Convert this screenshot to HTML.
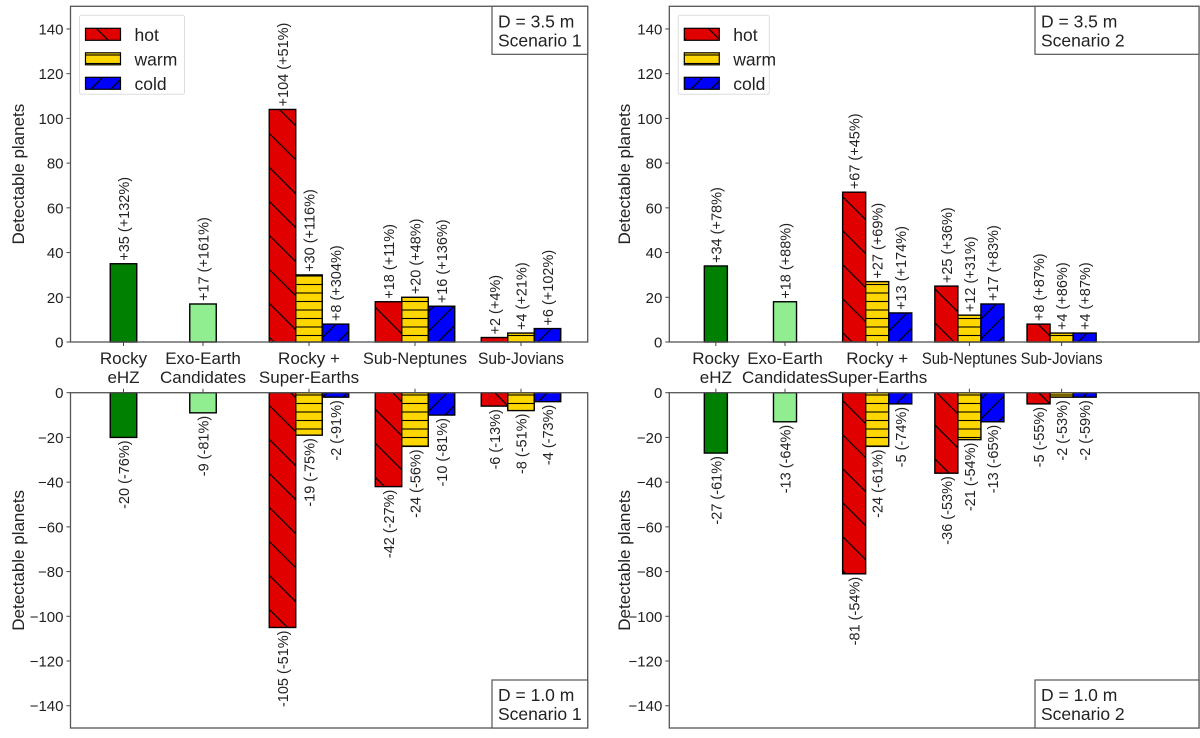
<!DOCTYPE html>
<html><head><meta charset="utf-8"><style>
body{margin:0;background:#fff;}
svg text{font-family:"Liberation Sans",Arial,sans-serif;fill:#222;}
</style></head><body>
<svg id="chart" width="1200" height="733" viewBox="0 0 1200 733" xmlns="http://www.w3.org/2000/svg">
<defs>
<pattern id="hatchHot" patternUnits="userSpaceOnUse" width="34" height="34">
<rect width="34" height="34" fill="#e00000"/>
<path d="M0,0 L34,34 M-34,0 L0,34 M34,0 L68,34" stroke="#000" stroke-width="1.2"/>
</pattern>
<pattern id="hatchWarm" patternUnits="userSpaceOnUse" width="10" height="8.5">
<rect width="10" height="8.5" fill="#ffd700"/>
<path d="M0,4 L10,4" stroke="#000" stroke-width="1.1"/>
</pattern>
<pattern id="hatchCold" patternUnits="userSpaceOnUse" width="20" height="20">
<rect width="20" height="20" fill="#0000ff"/>
<path d="M0,20 L20,0 M-20,20 L0,0 M20,20 L40,0" stroke="#000" stroke-width="1.2"/>
</pattern>
</defs>
</svg>
<script>
const categories = [["Rocky","eHZ"],["Exo-Earth","Candidates"],["Rocky +","Super-Earths"],["Sub-Neptunes"],["Sub-Jovians"]];
const catPos = [0.75,1.5,2.5,3.5,4.5];
const yTicksTop = [0,20,40,60,80,100,120,140];
const yTicksBottom = [0,-20,-40,-60,-80,-100,-120,-140];

// Scenario 1, D=3.5 m
const s1TopSingle = [35,17];
const s1TopSingleLbl = ["+35 (+132%)","+17 (+161%)"];
const s1TopHot = [104,18,2];
const s1TopWarm = [30,20,4];
const s1TopCold = [8,16,6];
const s1TopHotLbl = ["+104 (+51%)","+18 (+11%)","+2 (+4%)"];
const s1TopWarmLbl = ["+30 (+116%)","+20 (+48%)","+4 (+21%)"];
const s1TopColdLbl = ["+8 (+304%)","+16 (+136%)","+6 (+102%)"];
// Scenario 1, D=1.0 m
const s1BotSingle = [-20,-9];
const s1BotSingleLbl = ["-20 (-76%)","-9 (-81%)"];
const s1BotHot = [-105,-42,-6];
const s1BotWarm = [-19,-24,-8];
const s1BotCold = [-2,-10,-4];
const s1BotHotLbl = ["-105 (-51%)","-42 (-27%)","-6 (-13%)"];
const s1BotWarmLbl = ["-19 (-75%)","-24 (-56%)","-8 (-51%)"];
const s1BotColdLbl = ["-2 (-91%)","-10 (-81%)","-4 (-73%)"];
// Scenario 2, D=3.5 m
const s2TopSingle = [34,18];
const s2TopSingleLbl = ["+34 (+78%)","+18 (+88%)"];
const s2TopHot = [67,25,8];
const s2TopWarm = [27,12,4];
const s2TopCold = [13,17,4];
const s2TopHotLbl = ["+67 (+45%)","+25 (+36%)","+8 (+87%)"];
const s2TopWarmLbl = ["+27 (+69%)","+12 (+31%)","+4 (+86%)"];
const s2TopColdLbl = ["+13 (+174%)","+17 (+83%)","+4 (+87%)"];
// Scenario 2, D=1.0 m
const s2BotSingle = [-27,-13];
const s2BotSingleLbl = ["-27 (-61%)","-13 (-64%)"];
const s2BotHot = [-81,-36,-5];
const s2BotWarm = [-24,-21,-2];
const s2BotCold = [-5,-13,-2];
const s2BotHotLbl = ["-81 (-54%)","-36 (-53%)","-5 (-55%)"];
const s2BotWarmLbl = ["-24 (-61%)","-21 (-54%)","-2 (-53%)"];
const s2BotColdLbl = ["-5 (-74%)","-13 (-65%)","-2 (-59%)"];

const NS="http://www.w3.org/2000/svg";
const svg=document.getElementById('chart');
function mk(tag,attrs,parent,text){const e=document.createElementNS(NS,tag);for(const k in attrs)e.setAttribute(k,attrs[k]);if(text!==undefined)e.textContent=text;(parent||svg).appendChild(e);return e;}

function panel(cfg){
  const g=mk('g',{});
  
  
  const xS=v=>cfg.x0+(v-1.5)*cfg.unit;
  const yS=v=>cfg.zeroY-v*2.236;
  const left=cfg.left,right=cfg.right,top=cfg.top,bot=cfg.bottom;
  const bw=0.25*cfg.unit;
  const ticks=cfg.isTop?yTicksTop:yTicksBottom;
  ticks.forEach(t=>{
    const y=yS(t);
    const tk=mk('line',{x1:left-4,x2:left,y1:y,y2:y,stroke:'#444','stroke-width':1},g);
    
    
    const tl=mk('text',{x:left-7,y:y+5.5,'text-anchor':'end','font-size':15},g,t<0?'\u2212'+(-t):String(t));
    
    
  });
  catPos.forEach((c,i)=>{
    const x=xS(c);
    const tk=cfg.isTop?mk('line',{x1:x,x2:x,y1:bot,y2:bot+4,stroke:'#444'},g):mk('line',{x1:x,x2:x,y1:top,y2:top-4,stroke:'#444'},g);
    
    
    if(cfg.isTop){
      const lines=categories[i];
      const tx=mk('text',{x:x,y:bot+22,'text-anchor':'middle','font-size':17,'textLength':null},g);
      tx.removeAttribute('textLength');
      
      
      lines.forEach((l,j)=>{
        const sp=mk('tspan',{x:x,dy:j?19:0},tx,l);
        if(l==='Sub-Neptunes'||l==='Sub-Jovians'){sp.setAttribute('textLength',l==='Sub-Neptunes'?(cfg.unit<100?95:104):(cfg.unit<100?82:86));sp.setAttribute('lengthAdjust','spacingAndGlyphs');}
      });
    }
  });
  const yl=mk('text',{x:0,y:0,transform:`translate(${cfg.ylx},${(top+bot)/2}) rotate(-90)`,'text-anchor':'middle','font-size':17},g,'Detectable planets');
  
  

  function bar(x,v,fill,lbl,name){
    const y0=yS(0),y1=yS(v);
    const r=mk('rect',{x:x-bw/2,y:Math.min(y0,y1),width:bw,height:Math.abs(y1-y0),fill:fill,stroke:'#000','stroke-width':1.4},g);
    
    
    let t;
    if(v>=0){t=mk('text',{x:0,y:0,transform:`translate(${x+5.5},${y1-3}) rotate(-90)`,'text-anchor':'start','font-size':14.5},g,lbl);}
    else{t=mk('text',{x:0,y:0,transform:`translate(${x+5.5},${y1+3}) rotate(-90)`,'text-anchor':'end','font-size':14.5},g,lbl);}
    
    
  }
  cfg.single.forEach((v,i)=>bar(xS(catPos[i]),v,i===0?'#008000':'#90ee90',cfg.singleLbl[i],i===0?'bar-rocky-ehz':'bar-exo-earth'));
  for(let i=0;i<3;i++){
    const c=xS(catPos[i+2]);
    bar(c-bw,cfg.hot[i],'url(#hatchHot)',cfg.hotLbl[i],'bar-hot');
    bar(c,cfg.warm[i],'url(#hatchWarm)',cfg.warmLbl[i],'bar-warm');
    bar(c+bw,cfg.cold[i],'url(#hatchCold)',cfg.coldLbl[i],'bar-cold');
  }
  const fr=mk('rect',{x:left,y:top,width:right-left,height:bot-top,fill:'none',stroke:'#555','stroke-width':1.3},g);
  
  
  const bx=cfg.boxX, by=cfg.isTop?top:bot-48;
  const ab=mk('rect',{x:bx,y:by,width:right-bx,height:48,fill:'#fff',stroke:'#555','stroke-width':1.2},g);
  
  
  const at=mk('text',{x:bx+6,y:by+21,'font-size':17.5},g);
  
  
  mk('tspan',{x:bx+6},at,cfg.isTop?'D = 3.5 m':'D = 1.0 m');
  mk('tspan',{x:bx+6,dy:19},at,cfg.scen);
  if(cfg.isTop){
    const lx=left+9,ly=top+9;
    const lg=mk('g',{},g);
    
    
    mk('rect',{x:lx,y:ly,width:cfg.legW,height:79,fill:'#fff',stroke:'#ddd','stroke-width':1,rx:2},lg);
    [['url(#hatchHot)','hot'],['url(#hatchWarm)','warm'],['url(#hatchCold)','cold']].forEach((e,j)=>{
      const en=mk('g',{},lg);
      
      
      mk('rect',{x:lx+6,y:ly+13+j*24.5,width:35,height:12,fill:e[0],stroke:'#000','stroke-width':1.2},en);
      mk('text',{x:lx+55,y:ly+25.5+j*24.5,'font-size':17.5},en,e[1]);
    });
  }
}
const base1={left:70.5,right:587.7,x0:203,unit:106,ylx:24,boxX:492,legW:105};
const base2={left:669.3,right:1199,x0:785,unit:92.2,ylx:630,boxX:1035,legW:91};
const topGeom={isTop:true,top:6.3,bottom:342,zeroY:342};
const botGeom={isTop:false,top:392.7,bottom:728,zeroY:392.7};
panel(Object.assign({},base1,topGeom,{name:'s1-top',scen:'Scenario 1',single:s1TopSingle,singleLbl:s1TopSingleLbl,hot:s1TopHot,warm:s1TopWarm,cold:s1TopCold,hotLbl:s1TopHotLbl,warmLbl:s1TopWarmLbl,coldLbl:s1TopColdLbl}));
panel(Object.assign({},base1,botGeom,{name:'s1-bottom',scen:'Scenario 1',single:s1BotSingle,singleLbl:s1BotSingleLbl,hot:s1BotHot,warm:s1BotWarm,cold:s1BotCold,hotLbl:s1BotHotLbl,warmLbl:s1BotWarmLbl,coldLbl:s1BotColdLbl}));
panel(Object.assign({},base2,topGeom,{name:'s2-top',scen:'Scenario 2',single:s2TopSingle,singleLbl:s2TopSingleLbl,hot:s2TopHot,warm:s2TopWarm,cold:s2TopCold,hotLbl:s2TopHotLbl,warmLbl:s2TopWarmLbl,coldLbl:s2TopColdLbl}));
panel(Object.assign({},base2,botGeom,{name:'s2-bottom',scen:'Scenario 2',single:s2BotSingle,singleLbl:s2BotSingleLbl,hot:s2BotHot,warm:s2BotWarm,cold:s2BotCold,hotLbl:s2BotHotLbl,warmLbl:s2BotWarmLbl,coldLbl:s2BotColdLbl}));
</script>
</body></html>
